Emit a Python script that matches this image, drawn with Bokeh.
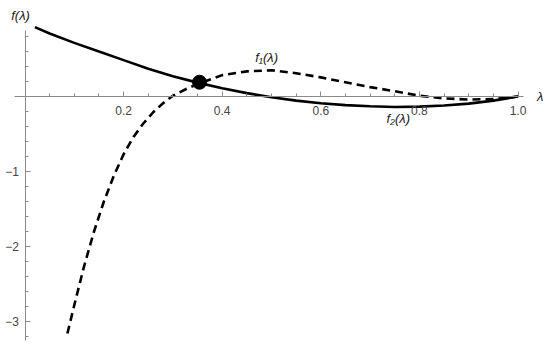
from bokeh.plotting import figure
from bokeh.models import Range1d, FixedTicker, Label
from bokeh.embed import file_html
from bokeh.resources import INLINE

# f1 (dashed curve)
lam1 = [0.086, 0.10, 0.12, 0.14, 0.16, 0.18, 0.20, 0.22, 0.24, 0.26, 0.28, 0.30,
        0.33, 0.36, 0.40, 0.45, 0.50, 0.55, 0.60, 0.65, 0.70, 0.75, 0.80, 0.85,
        0.90, 0.95, 1.00]
f1 = [-3.16, -2.78, -2.26, -1.80, -1.40, -1.06, -0.77, -0.54, -0.36, -0.21, -0.09, 0.01,
      0.11, 0.19, 0.285, 0.335, 0.35, 0.31, 0.255, 0.19, 0.125, 0.07, 0.01, -0.025,
      -0.04, -0.035, 0.0]

# f2 (solid curve)
lam2 = [0.02, 0.05, 0.10, 0.15, 0.20, 0.25, 0.30, 0.35, 0.40, 0.45, 0.50, 0.55,
        0.60, 0.65, 0.70, 0.75, 0.80, 0.85, 0.90, 0.95, 1.00]
f2 = [0.925, 0.84, 0.715, 0.60, 0.485, 0.37, 0.27, 0.185, 0.11, 0.045, -0.01, -0.055,
      -0.09, -0.115, -0.13, -0.14, -0.135, -0.12, -0.095, -0.055, 0.0]

# intersection point
cross_lam = [0.354]
cross_f = [0.19]

x_ticks = [0.2, 0.4, 0.6, 0.8, 1.0]
x_tick_labels = ["0.2", "0.4", "0.6", "0.8", "1.0"]
y_ticks = [-3, -2, -1]
y_tick_labels = ["\u22123", "\u22122", "\u22121"]

# frame covers the whole canvas; axes are limited with bounds
p = figure(width=550, height=353, output_backend="svg", toolbar_location=None,
           x_range=Range1d(-0.0497, 1.0659), y_range=Range1d(-3.4267, 1.28),
           min_border=0)
p.outline_line_color = None
p.grid.visible = False

AX = "#8a8a8a"
LAB = "#444444"
FONT = "Liberation Sans"

p.xaxis.fixed_location = 0
p.yaxis.fixed_location = 0
p.xaxis.bounds = (-0.0213, 1.011)
p.yaxis.bounds = (-3.253, 0.88)
p.xaxis.ticker = FixedTicker(ticks=x_ticks, minor_ticks=[round(0.05 * i, 2) for i in range(1, 21)])
p.yaxis.ticker = FixedTicker(ticks=y_ticks, minor_ticks=[round(-3.2 + 0.2 * i, 1) for i in range(0, 21) if abs(-3.2 + 0.2 * i) > 1e-6])
p.xaxis.major_label_overrides = dict(zip(x_ticks, x_tick_labels))
p.yaxis.major_label_overrides = dict(zip(y_ticks, y_tick_labels))

for ax in (p.xaxis, p.yaxis):
    ax.axis_line_color = AX
    ax.axis_line_width = 1
    ax.major_tick_line_color = AX
    ax.minor_tick_line_color = AX
    ax.major_tick_in = 5
    ax.major_tick_out = 0
    ax.minor_tick_in = 3
    ax.minor_tick_out = 0
    ax.major_label_text_font = FONT
    ax.major_label_text_font_size = "12px"
    ax.major_label_text_color = LAB
p.xaxis.major_label_standoff = 10
p.yaxis.major_label_standoff = 6

p.line(lam2, f2, line_color="black", line_width=2.6)
p.line(lam1, f1, line_color="black", line_width=2.6, line_dash="8 5")
p.scatter(cross_lam, cross_f, size=14, color="black")

def lab(txt, x, y, align="center"):
    p.add_layout(Label(x=x, y=y, text=txt, text_font=FONT, text_font_size="13px",
                       text_font_style="italic", text_color="#222222",
                       text_align=align, text_baseline="middle"))

lab("f(\u03bb)", -0.009, 1.08)
lab("\u03bb", 1.045, 0.0)
lab("f\u2081(\u03bb)", 0.49, 0.52)
lab("f\u2082(\u03bb)", 0.757, -0.293)

open("out.html", "w").write(file_html(p, INLINE))
